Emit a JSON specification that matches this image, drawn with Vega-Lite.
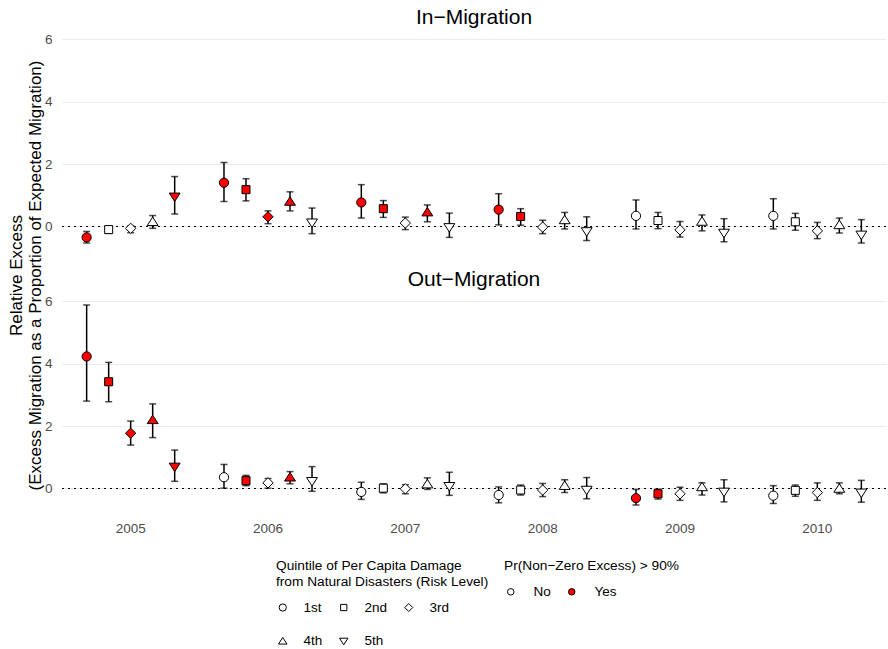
{
  "$schema": "https://vega.github.io/schema/vega-lite/v6.json",
  "background": "white",
  "padding": {"left": 7, "top": 7, "right": 0, "bottom": 0},
  "data": {"values": [
    {"panel": "In−Migration", "year": "2005", "q": "1st", "est": -0.35, "lo": -0.53, "hi": -0.16, "sig": "Yes"},
    {"panel": "In−Migration", "year": "2005", "q": "2nd", "est": -0.1, "lo": -0.22, "hi": 0.0, "sig": "No"},
    {"panel": "In−Migration", "year": "2005", "q": "3rd", "est": -0.06, "lo": -0.2, "hi": 0.02, "sig": "No"},
    {"panel": "In−Migration", "year": "2005", "q": "4th", "est": 0.15, "lo": -0.06, "hi": 0.35, "sig": "No"},
    {"panel": "In−Migration", "year": "2005", "q": "5th", "est": 0.95, "lo": 0.4, "hi": 1.6, "sig": "Yes"},
    {"panel": "In−Migration", "year": "2006", "q": "1st", "est": 1.4, "lo": 0.8, "hi": 2.05, "sig": "Yes"},
    {"panel": "In−Migration", "year": "2006", "q": "2nd", "est": 1.18, "lo": 0.82, "hi": 1.53, "sig": "Yes"},
    {"panel": "In−Migration", "year": "2006", "q": "3rd", "est": 0.31, "lo": 0.09, "hi": 0.5, "sig": "Yes"},
    {"panel": "In−Migration", "year": "2006", "q": "4th", "est": 0.8, "lo": 0.5, "hi": 1.11, "sig": "Yes"},
    {"panel": "In−Migration", "year": "2006", "q": "5th", "est": 0.12, "lo": -0.23, "hi": 0.59, "sig": "No"},
    {"panel": "In−Migration", "year": "2007", "q": "1st", "est": 0.77, "lo": 0.27, "hi": 1.34, "sig": "Yes"},
    {"panel": "In−Migration", "year": "2007", "q": "2nd", "est": 0.57, "lo": 0.29, "hi": 0.83, "sig": "Yes"},
    {"panel": "In−Migration", "year": "2007", "q": "3rd", "est": 0.11, "lo": -0.1, "hi": 0.3, "sig": "No"},
    {"panel": "In−Migration", "year": "2007", "q": "4th", "est": 0.46, "lo": 0.15, "hi": 0.69, "sig": "Yes"},
    {"panel": "In−Migration", "year": "2007", "q": "5th", "est": -0.03, "lo": -0.35, "hi": 0.43, "sig": "No"},
    {"panel": "In−Migration", "year": "2008", "q": "1st", "est": 0.54, "lo": 0.05, "hi": 1.05, "sig": "Yes"},
    {"panel": "In−Migration", "year": "2008", "q": "2nd", "est": 0.32, "lo": 0.04, "hi": 0.57, "sig": "Yes"},
    {"panel": "In−Migration", "year": "2008", "q": "3rd", "est": -0.02, "lo": -0.23, "hi": 0.2, "sig": "No"},
    {"panel": "In−Migration", "year": "2008", "q": "4th", "est": 0.21, "lo": -0.08, "hi": 0.45, "sig": "No"},
    {"panel": "In−Migration", "year": "2008", "q": "5th", "est": -0.16, "lo": -0.45, "hi": 0.31, "sig": "No"},
    {"panel": "In−Migration", "year": "2009", "q": "1st", "est": 0.34, "lo": -0.08, "hi": 0.85, "sig": "No"},
    {"panel": "In−Migration", "year": "2009", "q": "2nd", "est": 0.19, "lo": -0.07, "hi": 0.45, "sig": "No"},
    {"panel": "In−Migration", "year": "2009", "q": "3rd", "est": -0.11, "lo": -0.34, "hi": 0.16, "sig": "No"},
    {"panel": "In−Migration", "year": "2009", "q": "4th", "est": 0.16, "lo": -0.14, "hi": 0.37, "sig": "No"},
    {"panel": "In−Migration", "year": "2009", "q": "5th", "est": -0.21, "lo": -0.49, "hi": 0.25, "sig": "No"},
    {"panel": "In−Migration", "year": "2010", "q": "1st", "est": 0.34, "lo": -0.08, "hi": 0.89, "sig": "No"},
    {"panel": "In−Migration", "year": "2010", "q": "2nd", "est": 0.15, "lo": -0.12, "hi": 0.42, "sig": "No"},
    {"panel": "In−Migration", "year": "2010", "q": "3rd", "est": -0.14, "lo": -0.39, "hi": 0.13, "sig": "No"},
    {"panel": "In−Migration", "year": "2010", "q": "4th", "est": 0.05, "lo": -0.21, "hi": 0.27, "sig": "No"},
    {"panel": "In−Migration", "year": "2010", "q": "5th", "est": -0.27, "lo": -0.53, "hi": 0.22, "sig": "No"},
    {"panel": "Out−Migration", "year": "2005", "q": "1st", "est": 4.23, "lo": 2.8, "hi": 5.88, "sig": "Yes"},
    {"panel": "Out−Migration", "year": "2005", "q": "2nd", "est": 3.42, "lo": 2.78, "hi": 4.04, "sig": "Yes"},
    {"panel": "Out−Migration", "year": "2005", "q": "3rd", "est": 1.77, "lo": 1.39, "hi": 2.16, "sig": "Yes"},
    {"panel": "Out−Migration", "year": "2005", "q": "4th", "est": 2.2, "lo": 1.63, "hi": 2.71, "sig": "Yes"},
    {"panel": "Out−Migration", "year": "2005", "q": "5th", "est": 0.69, "lo": 0.23, "hi": 1.23, "sig": "Yes"},
    {"panel": "Out−Migration", "year": "2006", "q": "1st", "est": 0.36, "lo": 0.01, "hi": 0.77, "sig": "No"},
    {"panel": "Out−Migration", "year": "2006", "q": "2nd", "est": 0.25, "lo": 0.09, "hi": 0.42, "sig": "Yes"},
    {"panel": "Out−Migration", "year": "2006", "q": "3rd", "est": 0.18, "lo": 0.01, "hi": 0.32, "sig": "No"},
    {"panel": "Out−Migration", "year": "2006", "q": "4th", "est": 0.36, "lo": 0.15, "hi": 0.54, "sig": "Yes"},
    {"panel": "Out−Migration", "year": "2006", "q": "5th", "est": 0.23, "lo": -0.09, "hi": 0.7, "sig": "No"},
    {"panel": "Out−Migration", "year": "2007", "q": "1st", "est": -0.11, "lo": -0.35, "hi": 0.2, "sig": "No"},
    {"panel": "Out−Migration", "year": "2007", "q": "2nd", "est": 0.01, "lo": -0.14, "hi": 0.15, "sig": "No"},
    {"panel": "Out−Migration", "year": "2007", "q": "3rd", "est": -0.01, "lo": -0.17, "hi": 0.12, "sig": "No"},
    {"panel": "Out−Migration", "year": "2007", "q": "4th", "est": 0.14, "lo": -0.03, "hi": 0.34, "sig": "No"},
    {"panel": "Out−Migration", "year": "2007", "q": "5th", "est": 0.07, "lo": -0.22, "hi": 0.52, "sig": "No"},
    {"panel": "Out−Migration", "year": "2008", "q": "1st", "est": -0.21, "lo": -0.46, "hi": 0.05, "sig": "No"},
    {"panel": "Out−Migration", "year": "2008", "q": "2nd", "est": -0.05, "lo": -0.21, "hi": 0.11, "sig": "No"},
    {"panel": "Out−Migration", "year": "2008", "q": "3rd", "est": -0.05, "lo": -0.26, "hi": 0.16, "sig": "No"},
    {"panel": "Out−Migration", "year": "2008", "q": "4th", "est": 0.09, "lo": -0.13, "hi": 0.28, "sig": "No"},
    {"panel": "Out−Migration", "year": "2008", "q": "5th", "est": -0.05, "lo": -0.33, "hi": 0.35, "sig": "No"},
    {"panel": "Out−Migration", "year": "2009", "q": "1st", "est": -0.31, "lo": -0.53, "hi": -0.03, "sig": "Yes"},
    {"panel": "Out−Migration", "year": "2009", "q": "2nd", "est": -0.17, "lo": -0.34, "hi": -0.02, "sig": "Yes"},
    {"panel": "Out−Migration", "year": "2009", "q": "3rd", "est": -0.17, "lo": -0.38, "hi": 0.04, "sig": "No"},
    {"panel": "Out−Migration", "year": "2009", "q": "4th", "est": 0.05, "lo": -0.21, "hi": 0.18, "sig": "No"},
    {"panel": "Out−Migration", "year": "2009", "q": "5th", "est": -0.11, "lo": -0.43, "hi": 0.28, "sig": "No"},
    {"panel": "Out−Migration", "year": "2010", "q": "1st", "est": -0.23, "lo": -0.48, "hi": 0.09, "sig": "No"},
    {"panel": "Out−Migration", "year": "2010", "q": "2nd", "est": -0.06, "lo": -0.25, "hi": 0.11, "sig": "No"},
    {"panel": "Out−Migration", "year": "2010", "q": "3rd", "est": -0.13, "lo": -0.38, "hi": 0.18, "sig": "No"},
    {"panel": "Out−Migration", "year": "2010", "q": "4th", "est": 0.0, "lo": -0.17, "hi": 0.18, "sig": "No"},
    {"panel": "Out−Migration", "year": "2010", "q": "5th", "est": -0.14, "lo": -0.44, "hi": 0.26, "sig": "No"}
  ]},
  "config": {
    "font": "Liberation Sans",
    "view": {"stroke": null},
    "title": {"fontSize": 21, "fontWeight": "normal", "color": "black", "anchor": "middle", "offset": 4},
    "axis": {"domain": false, "ticks": false, "labelColor": "#4D4D4D", "labelFontSize": 13.5, "titleFontWeight": "normal", "titleColor": "black", "titleFontSize": 17, "gridColor": "#EBEBEB", "gridWidth": 1.2},
    "legend": {"orient": "none", "direction": "horizontal", "titleFontSize": 13.7, "titleFontWeight": "normal", "titleColor": "black", "labelFontSize": 13.5, "labelColor": "black", "symbolSize": 42, "symbolStrokeWidth": 1, "labelOffset": 14, "titleLimit": 400, "titlePadding": 12, "padding": 0}
  },
  "bounds": "flush",
  "spacing": 42,
  "vconcat": [
    {
      "title": "In−Migration",
      "transform": [{"filter": "datum.panel === 'In−Migration'"}],
      "width": 824,
      "height": 220,
      "layer": [
        {
          "mark": {"type": "rule", "strokeDash": [2, 4], "color": "black", "strokeWidth": 1.2},
          "encoding": {"y": {"datum": 0, "type": "quantitative", "scale": {"domain": [-0.85, 6.2], "nice": false, "zero": false}, "axis": {"values": [0, 2, 4, 6], "grid": true, "labelPadding": 10, "title": ["Relative Excess", "(Excess Migration as a Proportion of Expected Migration)"], "titleX": -36.5, "titleY": 242, "titleAlign": "center", "titleAngle": -90, "titleBaseline": "bottom"}}}
        },
        {
          "mark": {"type": "rule", "color": "black", "strokeWidth": 1.5},
          "encoding": {
            "x": {"field": "year", "type": "ordinal", "scale": {"type": "band", "paddingInner": 0, "paddingOuter": 0}, "axis": null},
            "xOffset": {"field": "q", "type": "nominal", "sort": ["1st", "2nd", "3rd", "4th", "5th"], "scale": {"paddingInner": 0, "paddingOuter": 0.62}},
            "y": {"field": "lo", "type": "quantitative"},
            "y2": {"field": "hi"}
          }
        },
        {
          "mark": {"type": "tick", "color": "black", "size": 7, "thickness": 1.5, "orient": "horizontal"},
          "encoding": {
            "x": {"field": "year", "type": "ordinal"},
            "xOffset": {"field": "q", "type": "nominal", "sort": ["1st", "2nd", "3rd", "4th", "5th"]},
            "y": {"field": "lo", "type": "quantitative"}
          }
        },
        {
          "mark": {"type": "tick", "color": "black", "size": 7, "thickness": 1.5, "orient": "horizontal"},
          "encoding": {
            "x": {"field": "year", "type": "ordinal"},
            "xOffset": {"field": "q", "type": "nominal", "sort": ["1st", "2nd", "3rd", "4th", "5th"]},
            "y": {"field": "hi", "type": "quantitative"}
          }
        },
        {
          "mark": {"type": "point", "filled": true, "stroke": "black", "strokeWidth": 1, "opacity": 1, "size": 85},
          "encoding": {
            "x": {"field": "year", "type": "ordinal"},
            "xOffset": {"field": "q", "type": "nominal", "sort": ["1st", "2nd", "3rd", "4th", "5th"]},
            "y": {"field": "est", "type": "quantitative"},
            "shape": {"field": "q", "type": "nominal", "sort": ["1st", "2nd", "3rd", "4th", "5th"], "scale": {"domain": ["1st", "2nd", "3rd", "4th", "5th"], "range": ["circle", "M-0.87,-0.87H0.87V0.87H-0.87Z", "M-1.12,0L0,-1.12L1.12,0L0,1.12Z", "M0,-1.02L1.18,0.82L-1.18,0.82Z", "M0,1.02L1.18,-0.82L-1.18,-0.82Z"]}, "legend": {"title": ["Quintile of Per Capita Damage", "from Natural Disasters (Risk Level)"], "columns": 3, "rowPadding": 19, "columnPadding": 14, "symbolSize": 52, "symbolFillColor": "white", "symbolStrokeColor": "black", "legendX": 214, "legendY": 526}},
            "fill": {"field": "sig", "type": "nominal", "scale": {"domain": ["No", "Yes"], "range": ["white", "#FF0000"]}, "legend": {"title": "Pr(Non−Zero Excess) > 90%", "symbolType": "circle", "symbolStrokeColor": "black", "columnPadding": 14, "labelOffset": 16, "legendX": 442, "legendY": 526}}
          }
        }
      ]
    },
    {
      "title": "Out−Migration",
      "transform": [{"filter": "datum.panel === 'Out−Migration'"}],
      "width": 824,
      "height": 220,
      "layer": [
        {
          "mark": {"type": "rule", "strokeDash": [2, 4], "color": "black", "strokeWidth": 1.2},
          "encoding": {"y": {"datum": 0, "type": "quantitative", "scale": {"domain": [-0.85, 6.2], "nice": false, "zero": false}, "axis": {"values": [0, 2, 4, 6], "grid": true, "labelPadding": 10, "title": null}}}
        },
        {
          "mark": {"type": "rule", "color": "black", "strokeWidth": 1.5},
          "encoding": {
            "x": {"field": "year", "type": "ordinal", "scale": {"type": "band", "paddingInner": 0, "paddingOuter": 0}, "axis": {"title": null, "labelAngle": 0, "labelPadding": 6, "grid": false}},
            "xOffset": {"field": "q", "type": "nominal", "sort": ["1st", "2nd", "3rd", "4th", "5th"], "scale": {"paddingInner": 0, "paddingOuter": 0.62}},
            "y": {"field": "lo", "type": "quantitative"},
            "y2": {"field": "hi"}
          }
        },
        {
          "mark": {"type": "tick", "color": "black", "size": 7, "thickness": 1.5, "orient": "horizontal"},
          "encoding": {
            "x": {"field": "year", "type": "ordinal"},
            "xOffset": {"field": "q", "type": "nominal", "sort": ["1st", "2nd", "3rd", "4th", "5th"]},
            "y": {"field": "lo", "type": "quantitative"}
          }
        },
        {
          "mark": {"type": "tick", "color": "black", "size": 7, "thickness": 1.5, "orient": "horizontal"},
          "encoding": {
            "x": {"field": "year", "type": "ordinal"},
            "xOffset": {"field": "q", "type": "nominal", "sort": ["1st", "2nd", "3rd", "4th", "5th"]},
            "y": {"field": "hi", "type": "quantitative"}
          }
        },
        {
          "mark": {"type": "point", "filled": true, "stroke": "black", "strokeWidth": 1, "opacity": 1, "size": 85},
          "encoding": {
            "x": {"field": "year", "type": "ordinal"},
            "xOffset": {"field": "q", "type": "nominal", "sort": ["1st", "2nd", "3rd", "4th", "5th"]},
            "y": {"field": "est", "type": "quantitative"},
            "shape": {"field": "q", "type": "nominal", "sort": ["1st", "2nd", "3rd", "4th", "5th"], "scale": {"domain": ["1st", "2nd", "3rd", "4th", "5th"], "range": ["circle", "M-0.87,-0.87H0.87V0.87H-0.87Z", "M-1.12,0L0,-1.12L1.12,0L0,1.12Z", "M0,-1.02L1.18,0.82L-1.18,0.82Z", "M0,1.02L1.18,-0.82L-1.18,-0.82Z"]}, "legend": {"title": ["Quintile of Per Capita Damage", "from Natural Disasters (Risk Level)"], "columns": 3, "rowPadding": 19, "columnPadding": 14, "symbolSize": 52, "symbolFillColor": "white", "symbolStrokeColor": "black", "legendX": 214, "legendY": 526}},
            "fill": {"field": "sig", "type": "nominal", "scale": {"domain": ["No", "Yes"], "range": ["white", "#FF0000"]}, "legend": {"title": "Pr(Non−Zero Excess) > 90%", "symbolType": "circle", "symbolStrokeColor": "black", "columnPadding": 14, "labelOffset": 16, "legendX": 442, "legendY": 526}}
          }
        }
      ]
    }
  ]
}
